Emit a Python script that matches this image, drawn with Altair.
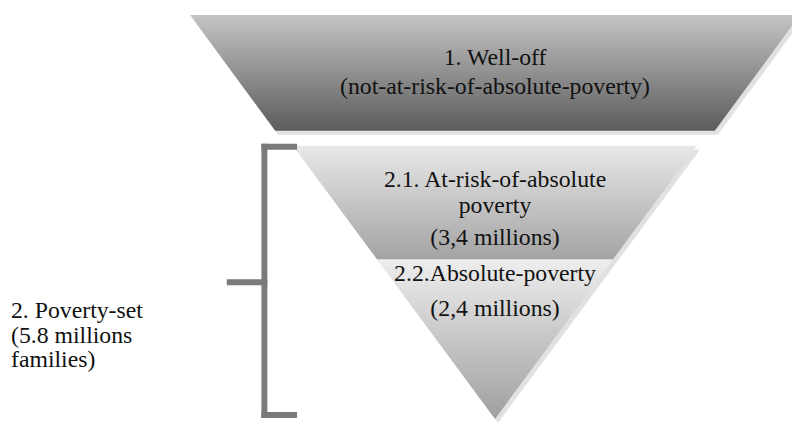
import altair as alt
import pandas as pd

# ---------------- data ----------------
# funnel bands (diagram units = page pixels)
band_names = ["1. Well-off", "2.1. At-risk", "2.2. Absolute"]
band_top_y = [13, 145, 260]
band_bottom_y = [130, 260, 421]
band_top_half = [308, 204, 119]
band_bottom_half = [222, 119, 0]
center_x = 500

# labels inside the funnel (baselines)
label_lines = ["1. Well-off", "(not-at-risk-of-absolute-poverty)",
               "2.1. At-risk-of-absolute", "poverty", "(3,4 millions)",
               "2.2.Absolute-poverty", "(2,4 millions)"]
label_y = [63, 93, 187, 213, 245, 282, 317]

# side label (baselines)
side_lines = ["2. Poverty-set", "(5.8 millions", "families)"]
side_y = [319, 344, 369]
side_x = 11

# bracket segments
br_x1 = [267, 267, 267, 232]
br_x2 = [267, 297, 297, 267]
br_y1 = [146, 146, 417, 283]
br_y2 = [417, 146, 417, 283]

# ---------------- styles ----------------
W, H = 792, 414
xs = alt.Scale(domain=[8, 8 + W], nice=False, zero=False)
ys = alt.Scale(domain=[8, 8 + H], nice=False, zero=False, reverse=True)
FONT = "Liberation Serif"
band_colors = [("#c4c4c4", "#5c5c5c"), ("#e8e8e8", "#a3a3a3"), ("#eeeeee", "#9f9f9f")]


def band_df(i, dx=0, dy=0):
    return pd.DataFrame({
        "y": [band_top_y[i] + dy, band_bottom_y[i] + dy],
        "xl": [center_x - band_top_half[i] + dx, center_x - band_bottom_half[i] + dx],
        "xr": [center_x + band_top_half[i] + dx, center_x + band_bottom_half[i] + dx],
    })


def enc(ch):
    return ch.encode(
        y=alt.Y("y:Q", scale=ys, axis=None),
        x=alt.X("xl:Q", scale=xs, axis=None),
        x2="xr:Q",
    )


layers = []
# soft shadows
for i in range(3):
    layers.append(enc(alt.Chart(band_df(i, 3, 4)).mark_area(
        orient="horizontal", color="#bdbdbd", opacity=0.45)))
# bands
for i in range(3):
    c1, c2 = band_colors[i]
    grad = alt.Gradient(gradient="linear",
                        stops=[alt.GradientStop(color=c1, offset=0),
                               alt.GradientStop(color=c2, offset=1)],
                        x1=0, x2=0, y1=0, y2=1)
    layers.append(enc(alt.Chart(band_df(i)).mark_area(orient="horizontal", color=grad)))

# bracket
br = pd.DataFrame({"x1": br_x1, "x2": br_x2, "y1": br_y1, "y2": br_y2})
layers.append(alt.Chart(br).mark_rule(strokeWidth=6, color="#7a7a7a", strokeCap="square").encode(
    x=alt.X("x1:Q", scale=xs, axis=None), x2="x2:Q",
    y=alt.Y("y1:Q", scale=ys, axis=None), y2="y2:Q"))

# funnel labels
lab = pd.DataFrame({"text": label_lines, "y": label_y, "x": [center_x] * len(label_lines)})
layers.append(alt.Chart(lab).mark_text(font=FONT, fontSize=24, color="#111111",
                                       align="center", baseline="alphabetic").encode(
    x=alt.X("x:Q", scale=xs, axis=None), y=alt.Y("y:Q", scale=ys, axis=None), text="text:N"))

side = pd.DataFrame({"text": side_lines, "y": side_y, "x": [side_x] * len(side_lines)})
layers.append(alt.Chart(side).mark_text(font=FONT, fontSize=24, color="#111111",
                                        align="left", baseline="alphabetic").encode(
    x=alt.X("x:Q", scale=xs, axis=None), y=alt.Y("y:Q", scale=ys, axis=None), text="text:N"))

chart = alt.layer(*layers).properties(
    width=W, height=H, padding=0, autosize="none", background="white"
).configure_view(stroke=None)

chart.save("out.html", embed_options={"renderer": "svg", "actions": False})
